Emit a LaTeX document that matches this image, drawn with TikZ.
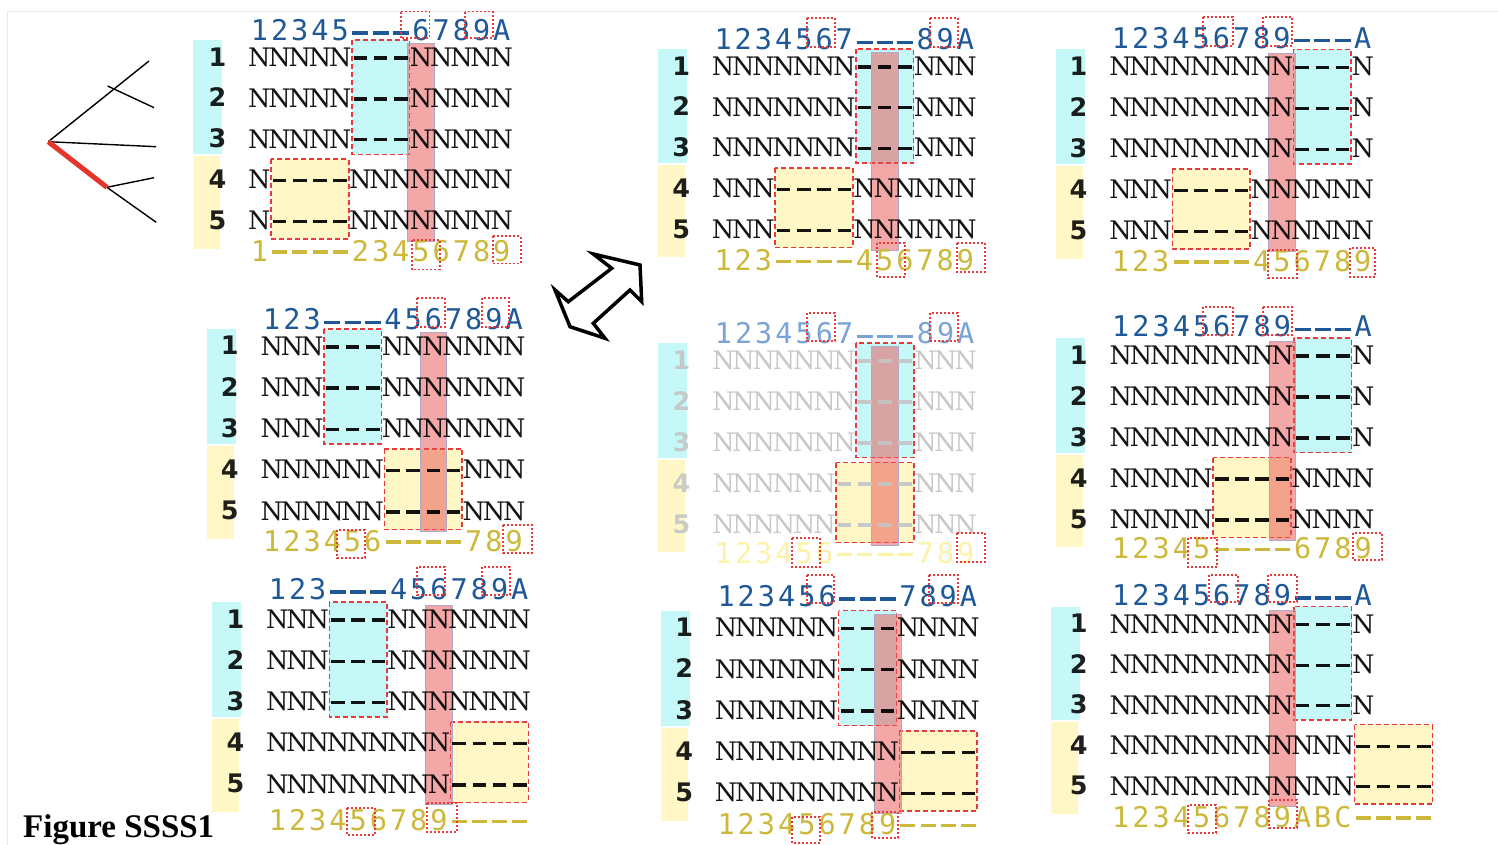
\documentclass[tikz,border=0pt]{standalone}
\usepackage{fontspec}
\setmainfont{Liberation Serif}
\newfontfamily\nfont{DejaVu Serif}
\newfontfamily\numfont{DejaVu Sans Mono}
\newfontfamily\labfont{DejaVu Sans}
\usetikzlibrary{calc}

\definecolor{seqblue}{RGB}{30,88,150}
\definecolor{seqolive}{RGB}{204,184,58}
\definecolor{fadeblue}{RGB}{122,164,214}
\definecolor{fadeolive}{RGB}{253,242,165}
\definecolor{fadegrey}{RGB}{196,196,196}
\definecolor{boxcyan}{RGB}{198,248,248}
\definecolor{boxyellow}{RGB}{255,248,198}
\definecolor{markred}{RGB}{232,58,58}
\definecolor{colred}{RGB}{232,80,80}
\definecolor{coledge}{RGB}{176,168,200}
\definecolor{framegrey}{RGB}{232,232,232}
\definecolor{branchred}{RGB}{230,52,40}

% fixed-pitch character cells; '-' becomes a drawn gap bar
\newlength\cw \setlength\cw{20.2pt}
\newlength\dlen \newlength\draise \newlength\dthick
\setlength\dthick{3.3pt}
\makeatletter
\def\spreadstr#1{\spread@loop#1\relax}
\def\spread@loop#1{\ifx#1\relax\else\spread@char#1\expandafter\spread@loop\fi}
\def\spread@char#1{\ifx#1-\makebox[\cw]{\rule[\draise]{\dlen}{\dthick}}\else\makebox[\cw]{#1}\fi}
\makeatother
\newcommand\rowline[1]{\setlength\dlen{13.5pt}\setlength\draise{6.6pt}\spreadstr{#1}}
\newcommand\topline[1]{\setlength\dlen{16pt}\setlength\draise{5.8pt}\spreadstr{#1}}
\newcommand\botline[1]{\setlength\dlen{15pt}\setlength\draise{7.5pt}\spreadstr{#1}}

\colorlet{rowink}{black}
\colorlet{topink}{seqblue}
\colorlet{botink}{seqolive}

\tikzset{
  rowtext/.style={anchor=base west, inner sep=0pt, outer sep=0pt,
    font=\nfont\fontsize{25.5}{25.5}\selectfont, text=rowink, text opacity=0.92},
  toptext/.style={anchor=base west, inner sep=0pt, outer sep=0pt,
    font=\numfont\fontsize{28.5}{28.5}\selectfont, text=topink},
  bottext/.style={anchor=base west, inner sep=0pt, outer sep=0pt,
    font=\numfont\fontsize{28.5}{28.5}\selectfont, text=botink},
  rowlabel/.style={anchor=base east, inner sep=0pt, outer sep=0pt,
    font=\labfont\bfseries\fontsize{25.5}{25.5}\selectfont, text=rowink, text opacity=0.88},
  marked/.style={draw=markred, line width=1.5pt, dash pattern=on 5pt off 3pt},
  dotmark/.style={draw=markred, line width=1.6pt, dash pattern=on 2pt off 2pt},
  colmark/.style={fill=colred, fill opacity=0.5, draw=coledge, line width=0.8pt},
  treeline/.style={line width=1.4pt, black},
  redbranch/.style={line width=5pt, branchred},
}

% current panel: name, x of first column, y of row 1, row step,
% y of upper numbering, y of lower numbering, label column offset
\newcommand\panel[7]{\def\pn{#1}\def\px{#2}\def\pya{#3}\def\pst{#4}\def\pyt{#5}\def\pyb{#6}\def\plo{#7}}
\newcommand\labelbars{%
  \fill[boxcyan] ({\px-\plo},{\pya-17}) rectangle ({\px-\plo+29},{\pya+2*\pst+15.5});
  \fill[boxyellow] ({\px-\plo},{\pya+2*\pst+17.5}) rectangle ({\px-\plo+27},{\pya+4*\pst+28});
}
\newcommand\cyanbox[2]{\path[marked, fill=boxcyan] ({\px+#1*20.2+1.5},{\pya-17}) rectangle ({\px+(#2+1)*20.2-1.5},{\pya+2*\pst+15.5});}
\newcommand\yellowbox[2]{\path[marked, fill=boxyellow] ({\px+#1*20.2+1.5},{\pya+3*\pst-20.5}) rectangle ({\px+(#2+1)*20.2-1.5},{\pya+4*\pst+18.5});}
\newcommand\redcolumn[1]{\path[colmark] ({\px+(#1+0.5)*20.2-13.3},{\pya-13.5}) rectangle ({\px+(#1+0.5)*20.2+13.3},{\pya+4*\pst+21});}
\newcommand\panellines[4]{%
  \node[toptext] (\pn-top) at ({\px},{\pyt+10.3}) {\topline{#1}};
  \foreach \r in {1,2,3} \node[rowtext] (\pn-r\r) at ({\px},{\pya+(\r-1)*\pst+9.3}) {\rowline{#2}};
  \foreach \r in {4,5} \node[rowtext] (\pn-r\r) at ({\px},{\pya+(\r-1)*\pst+9.3}) {\rowline{#3}};
  \node[bottext] (\pn-bot) at ({\px},{\pyb+10.3}) {\botline{#4}};
  \foreach \r in {1,...,5} \node[rowlabel] (\pn-l\r) at ({\px-23},{\pya+(\r-1)*\pst+9.1}) {\r};
}
\newcommand\dotbox[4]{\draw[dotmark] (#1,#2) rectangle (#3,#4);}

\begin{document}
\begin{tikzpicture}[x=1pt,y=-1pt]
\useasboundingbox (0,0) rectangle (1498,845);
\fill[white] (0,0) rectangle (1498,845);
\draw[framegrey, line width=1pt] (7,845) -- (7,12) -- (1498,12);

% tree
\coordinate (troot) at (48.3,141.7);
\coordinate (tup) at (149,61);
\coordinate (tupb) at (107.6,86);
\coordinate (tupc) at (154.1,107.7);
\coordinate (tmid) at (156.2,146.7);
\coordinate (tlow) at (106.9,187.3);
\coordinate (tlowa) at (154.1,177.7);
\coordinate (tlowb) at (156.2,222.3);
\draw[treeline] (troot) -- (tup);
\draw[treeline] (tupb) -- (tupc);
\draw[treeline] (troot) -- (tmid);
\draw[treeline] (tlow) -- (tlowa);
\draw[treeline] (tlow) -- (tlowb);
\draw[redbranch] (troot) -- (tlow);

% double-headed arrow
\draw[line width=3.5pt, line join=miter] (611.7,268.3) -- (593.3,254) -- (640,265) -- (641.7,301.7) -- (630,290)
  -- (593.3,323.3) -- (605,338.3) -- (570,326.7) -- (555,290) -- (568.3,301.7) -- cycle;

% panel 1
\panel{P1}{249.3}{57}{40.9}{30.3}{250.7}{56}
\labelbars \cyanbox{5}{7} \yellowbox{1}{4} \redcolumn{8}
\panellines{12345---6789A}{NNNNN---NNNNN}{N----NNNNNNNN}{1----23456789}
\dotbox{400.7}{11.7}{429.3}{38.3} \dotbox{465}{11.7}{492.7}{38.3}
\dotbox{411.7}{240}{440}{269.3} \dotbox{492.7}{236}{520.7}{263.3}

% panel 2
\panel{P2}{713}{66}{40.8}{39.5}{260}{55}
\labelbars \cyanbox{7}{9} \yellowbox{3}{6} \redcolumn{8}
\panellines{1234567---89A}{NNNNNNN---NNN}{NNN----NNNNNN}{123----456789}
\dotbox{807}{18}{835}{47} \dotbox{930}{18}{958}{47}
\dotbox{877}{243}{905}{277} \dotbox{957}{243}{985}{272}

% panel 3
\panel{P3}{1110.3}{66.5}{41}{38}{260.7}{54.5}
\labelbars \cyanbox{9}{11} \yellowbox{3}{6} \redcolumn{8}
\panellines{123456789---A}{NNNNNNNNN---N}{NNN----NNNNNN}{123----456789}
\dotbox{1203}{17}{1233}{46} \dotbox{1263}{17}{1292}{46}
\dotbox{1268}{250}{1297}{278} \dotbox{1350}{248}{1375}{277}

% panel 4
\panel{P4}{261.7}{345.8}{41.25}{319.3}{540.7}{55}
\labelbars \cyanbox{3}{5} \yellowbox{6}{9} \redcolumn{8}
\panellines{123---456789A}{NNN---NNNNNNN}{NNNNNN----NNN}{123456----789}
\dotbox{417}{298}{445}{327} \dotbox{482}{298}{509}{327}
\dotbox{337}{530}{365}{558} \dotbox{503}{525}{532}{553}

% panel 5 (faded)
\begin{scope}
\colorlet{rowink}{fadegrey}
\colorlet{topink}{fadeblue}
\colorlet{botink}{fadeolive}
\panel{P5}{713.3}{360}{41}{333.3}{553}{55}
\labelbars \cyanbox{7}{9} \yellowbox{6}{9} \redcolumn{8}
\panellines{1234567---89A}{NNNNNNN---NNN}{NNNNNN----NNN}{123456----789}
\dotbox{807}{313}{835}{341} \dotbox{930}{313}{958}{341}
\dotbox{792}{538}{820}{567} \dotbox{957}{533}{985}{562}
\end{scope}

% panel 6
\panel{P6}{1110.7}{355}{41}{326.5}{548.3}{54.7}
\labelbars \cyanbox{9}{11} \yellowbox{5}{8} \redcolumn{8}
\panellines{123456789---A}{NNNNNNNNN---N}{NNNNN----NNNN}{12345----6789}
\dotbox{1203}{307}{1233}{335} \dotbox{1263}{307}{1292}{335}
\dotbox{1188}{538}{1217}{567} \dotbox{1353}{533}{1382}{560}

% panel 7
\panel{P7}{267.3}{619}{41.2}{589}{820}{55.3}
\labelbars \cyanbox{3}{5} \yellowbox{9}{12} \redcolumn{8}
\panellines{123---456789A}{NNN---NNNNNNN}{NNNNNNNNN----}{123456789----}
\dotbox{417}{567}{445}{595} \dotbox{482}{567}{510}{595}
\dotbox{347}{808}{375}{835} \dotbox{427}{803}{457}{832}

% panel 8
\panel{P8}{716}{627.5}{41.25}{596}{824}{55}
\labelbars \cyanbox{6}{8} \yellowbox{9}{12} \redcolumn{8}
\panellines{123456---789A}{NNNNNN---NNNN}{NNNNNNNNN----}{123456789----}
\dotbox{807}{575}{834}{603} \dotbox{929}{575}{958}{603}
\dotbox{792}{817}{820}{843} \dotbox{872}{812}{898}{838}

% panel 9
\panel{P9}{1110.7}{623.7}{40.5}{595}{816.7}{59.7}
\labelbars \cyanbox{9}{11} \yellowbox{12}{15} \redcolumn{8}
\panellines{123456789---A}{NNNNNNNNN---N}{NNNNNNNNNNNN----}{123456789ABC----}
\dotbox{1209}{575}{1238}{602} \dotbox{1268}{575}{1297}{602}
\dotbox{1188}{805}{1216}{833} \dotbox{1269}{800}{1297}{828}

\node[anchor=base west, inner sep=0pt, font=\bfseries\fontsize{33}{33}\selectfont] (figlabel) at (23,837) {Figure SSSS1};
\end{tikzpicture}
\end{document}
